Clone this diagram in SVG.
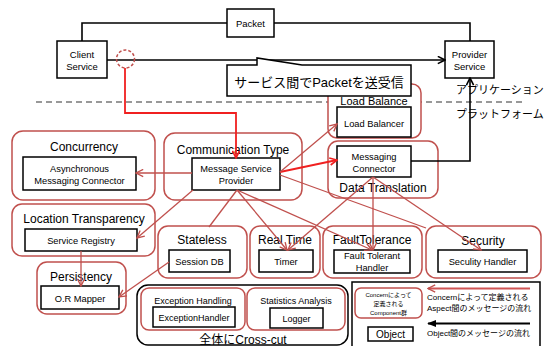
<svg xmlns="http://www.w3.org/2000/svg" width="546" height="346" viewBox="0 0 546 346">
<style>
text{font-family:"Liberation Sans",Arial,"Noto Sans CJK JP",sans-serif;fill:#000;text-anchor:middle}
.jp{font-family:"Liberation Sans","Noto Sans CJK JP",sans-serif}
.grp{fill:#fff;stroke:#c0504d;stroke-width:1.5}
.box{fill:#fff;stroke:#000;stroke-width:1.5}
.gl{font-size:12px}
.bt{font-size:9.3px}
.ln{fill:none;stroke:#c0504d;stroke-width:1.3}
.rl{fill:none;stroke:#f02020;stroke-width:1.8}
.bl{fill:none;stroke:#000;stroke-width:1.6}
</style>
<defs>
<marker id="ar" viewBox="0 0 10 10" refX="9" refY="5" markerWidth="9" markerHeight="9" markerUnits="userSpaceOnUse" orient="auto"><path d="M1,1 L9,5 L1,9" fill="none" stroke="#c0504d" stroke-width="1.5"/></marker>
<marker id="arr" viewBox="0 0 10 10" refX="9" refY="5" markerWidth="9" markerHeight="9" markerUnits="userSpaceOnUse" orient="auto"><path d="M1,1 L9,5 L1,9" fill="none" stroke="#f02020" stroke-width="1.8"/></marker>
<marker id="ab" viewBox="0 0 10 10" refX="9" refY="5" markerWidth="9" markerHeight="9" markerUnits="userSpaceOnUse" orient="auto"><path d="M1,1 L9,5 L1,9" fill="none" stroke="#000" stroke-width="1.8"/></marker>
<marker id="abf" viewBox="0 0 10 10" refX="9" refY="5" markerWidth="9" markerHeight="9" markerUnits="userSpaceOnUse" orient="auto"><path d="M0,1 L10,5 L0,9 z" fill="#000"/></marker>
</defs>

<!-- separator -->
<line x1="36" y1="102" x2="522" y2="102" stroke="#777" stroke-width="1.5" stroke-dasharray="6 4"/>

<!-- groups -->
<g id="g-load-balance"><rect class="grp" x="328" y="84" width="93" height="54" rx="9"/><text class="gl" x="374" y="104.5" style="font-size:11px">Load Balance</text>
<rect class="box" x="337" y="107" width="74" height="30"/><text class="bt" x="374" y="127.3">Load Balancer</text></g>

<g id="g-data-translation"><rect class="grp" x="328" y="141" width="110" height="57" rx="10"/><text class="gl" x="383" y="192">Data Translation</text>
<rect class="box" x="337" y="146" width="74" height="31"/><text class="bt" x="374" y="160">Messaging</text><text class="bt" x="374" y="171.6">Connector</text></g>

<g id="g-concurrency"><rect class="grp" x="12" y="131" width="143" height="69" rx="11"/><text class="gl" x="84" y="151">Concurrency</text>
<rect class="box" x="23" y="157" width="113" height="33"/><text class="bt" x="79.5" y="171.6">Asynchronous</text><text class="bt" x="79.5" y="184">Messaging Connector</text></g>

<g id="g-communication-type"><rect class="grp" x="164" y="133" width="138" height="67" rx="11"/><text class="gl" x="233" y="153.5">Communication Type</text>
<rect class="box" x="192" y="158" width="88" height="32"/><text class="bt" x="236" y="171.6">Message Service</text><text class="bt" x="236" y="184">Provider</text></g>

<g id="g-location-transparency"><rect class="grp" x="12" y="204" width="143" height="52" rx="10"/><text class="gl" x="84" y="223">Location Transparency</text>
<rect class="box" x="25" y="229" width="112" height="22"/><text class="bt" x="81" y="244.3">Service Registry</text></g>

<g id="g-persistency"><rect class="grp" x="37" y="262" width="89" height="52" rx="10"/><text class="gl" x="81" y="281">Persistency</text>
<rect class="box" x="41" y="286" width="78" height="23"/><text class="bt" x="80" y="301.6">O.R Mapper</text></g>

<g id="g-stateless"><rect class="grp" x="158" y="226" width="89" height="52" rx="10"/><text class="gl" x="202" y="244.3">Stateless</text>
<rect class="box" x="169" y="250" width="61" height="22"/><text class="bt" x="199.5" y="265">Session DB</text></g>

<g id="g-real-time"><rect class="grp" x="250" y="226" width="70" height="52" rx="10"/><text class="gl" x="285" y="244.3">Real Time</text>
<rect class="box" x="259" y="250" width="54" height="22"/><text class="bt" x="286" y="265">Timer</text></g>

<g id="g-fault-tolerance"><rect class="grp" x="323" y="226" width="99" height="52" rx="10"/><text class="gl" x="372" y="244.3">FaultTolerance</text>
<rect class="box" x="334" y="250" width="76" height="23"/><text class="bt" x="372" y="259.3">Fault Tolerant</text><text class="bt" x="372" y="271">Handler</text></g>

<g id="g-security"><rect class="grp" x="426" y="226" width="115" height="52" rx="10"/><text class="gl" x="483" y="245">Security</text>
<rect class="box" x="438" y="250" width="89" height="22"/><text class="bt" x="482.5" y="265">Seculity Handler</text></g>

<g id="g-cross-cut"><rect x="137" y="285" width="211" height="60" rx="11" fill="#fff" stroke="#000" stroke-width="1.5"/>
<text class="jp" x="243" y="343.5" style="font-size:12px">全体にCross-cut</text>
<g id="g-exception-handling"><rect class="grp" x="141" y="288" width="104" height="42" rx="8"/><text x="193" y="303.5" style="font-size:9px">Exception Handling</text>
<rect class="box" x="153" y="307" width="82" height="20"/><text x="194" y="321" style="font-size:9px">ExceptionHandler</text></g>
<g id="g-statistics-analysis"><rect class="grp" x="247" y="288" width="98" height="42" rx="8"/><text x="296" y="304" style="font-size:9px">Statistics Analysis</text>
<rect class="box" x="270" y="308" width="53" height="20"/><text x="296.5" y="321.5" style="font-size:9px">Logger</text></g>
</g>

<!-- top nodes -->
<g id="n-packet"><rect class="box" x="227" y="9" width="47" height="28"/><text x="250.5" y="27" style="font-size:9.5px">Packet</text></g>
<g id="n-client"><rect class="box" x="57" y="41" width="50" height="37"/><text x="82" y="58" style="font-size:9.5px">Client</text><text x="82" y="69.5" style="font-size:9.5px">Service</text></g>
<g id="n-provider"><rect class="box" x="445" y="41" width="49" height="37"/><text x="469.5" y="58" style="font-size:9.5px">Provider</text><text x="469.5" y="69.5" style="font-size:9.5px">Service</text></g>

<text class="jp" x="456" y="93.5" style="font-size:11px;text-anchor:start">アプリケーション</text>
<text class="jp" x="456" y="117.5" style="font-size:11px;text-anchor:start">プラットフォーム</text>

<!-- connectors -->
<g id="connectors">
<polyline class="bl" points="82,41 82,23 227,23"/>
<polyline class="bl" points="274,23 470,23 470,41"/>
<line class="bl" x1="107" y1="60" x2="445" y2="60" marker-end="url(#ab)"/>
<polyline class="bl" points="411,161 470,161 470,78" marker-end="url(#ab)"/>
<polyline class="rl" points="125,68 125,113 236,113 236,158" marker-end="url(#arr)"/>
<line class="rl" x1="280" y1="172" x2="337" y2="160" marker-end="url(#arr)"/>
<line class="ln" x1="280" y1="172" x2="337" y2="124" marker-end="url(#ar)"/>
<line class="ln" x1="192" y1="173" x2="136" y2="173" marker-end="url(#ar)"/>
<line class="ln" x1="193" y1="190" x2="137" y2="238" marker-end="url(#ar)"/>
<line class="ln" x1="237" y1="190" x2="209" y2="227"/>
<line class="ln" x1="237" y1="190" x2="287" y2="250" marker-end="url(#ar)"/>
<line class="ln" x1="237" y1="190" x2="372" y2="250" marker-end="url(#ar)"/>
<line class="ln" x1="280" y1="175" x2="426" y2="228"/>
<line class="ln" x1="373" y1="177" x2="288" y2="250" marker-end="url(#ar)"/>
<line class="ln" x1="373" y1="177" x2="373" y2="250" marker-end="url(#ar)"/>
<line class="ln" x1="373" y1="177" x2="481" y2="250" marker-end="url(#ar)"/>
<line class="ln" x1="81" y1="251" x2="81" y2="286" marker-end="url(#ar)"/>
<line class="ln" x1="169" y1="262" x2="119" y2="297" marker-end="url(#ar)"/>
</g>
<circle cx="125.5" cy="59" r="9" fill="none" stroke="#c0504d" stroke-width="1.5" stroke-dasharray="3 2"/>

<!-- callout -->
<g id="callout"><path d="M227,65 L257,65 L257,58 L302,65 L411,65 L411,96 L227,96 Z" fill="#fff" stroke="#000" stroke-width="1.5"/>
<text class="jp" x="319" y="86.5" style="font-size:13px">サービス間でPacketを送受信</text></g>

<!-- legend -->
<g id="legend"><rect x="352" y="282" width="188" height="70" fill="#fff" stroke="#000" stroke-width="1.5"/>
<rect class="grp" x="355" y="288" width="67" height="30" rx="6"/>
<text class="jp" x="388.5" y="297" style="font-size:6px">Concernによって</text>
<text class="jp" x="388.5" y="306" style="font-size:6px">定義される</text>
<text class="jp" x="388.5" y="315" style="font-size:6px">Component群</text>
<rect class="box" x="368" y="327" width="45" height="14"/><text x="390.5" y="337.5" style="font-size:10px">Object</text>
<line x1="530" y1="288.5" x2="428" y2="288.5" stroke="#d05555" stroke-width="2" marker-end="url(#ar)"/>
<line x1="530" y1="323.5" x2="428" y2="323.5" stroke="#000" stroke-width="2" marker-end="url(#abf)"/>
<text class="jp" x="427" y="300.3" style="font-size:8px;text-anchor:start">Concernによって定義される</text>
<text class="jp" x="427" y="311.3" style="font-size:8px;text-anchor:start">Aspect間のメッセージの流れ</text>
<text class="jp" x="427" y="335.7" style="font-size:8px;text-anchor:start">Object間のメッセージの流れ</text>
</g>
</svg>
